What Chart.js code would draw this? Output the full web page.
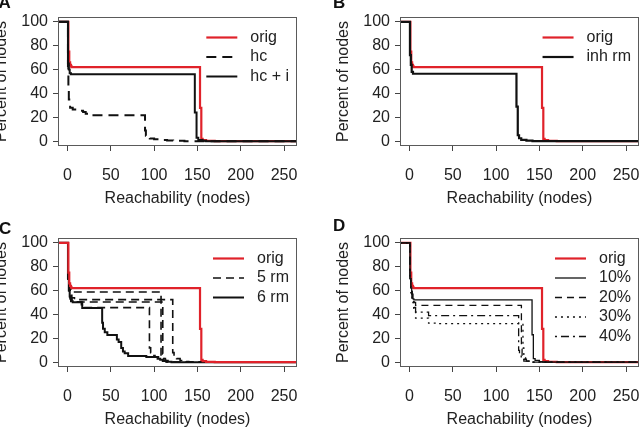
<!DOCTYPE html>
<html><head><meta charset="utf-8">
<script src="https://cdn.jsdelivr.net/npm/chart.js@4.4.1/dist/chart.umd.min.js"></script>
<style>
html,body{margin:0;padding:0;background:#fff;overflow:hidden;width:643px;height:428px;position:relative}
.p{position:absolute;width:322px;height:221px}
canvas{display:block}
</style></head><body>
<div class="p" style="left:-21px;top:-7px"><canvas id="cA" width="322" height="221"></canvas></div>
<div class="p" style="left:321px;top:-7px"><canvas id="cB" width="322" height="221"></canvas></div>
<div class="p" style="left:-21px;top:214px"><canvas id="cC" width="322" height="221"></canvas></div>
<div class="p" style="left:321px;top:214px"><canvas id="cD" width="322" height="221"></canvas></div>
<script>
// ---- tick labels ----
const xTicks = [0, 50, 100, 150, 200, 250];
const yTicks = [0, 20, 40, 60, 80, 100];
const X_MIN = -11, X_MAX = 265, Y_MIN = -4, Y_MAX = 104;

// ---- original network (all panels) ----
const origX = [-11, 1, 2, 3, 4, 5, 153, 154.5, 156, 160, 170, 265];
const origY = [100, 75, 66, 64, 62.5, 62, 28, 2, 1, 0.3, 0, 0];

// ---- panel A ----
const hcX = [-11, 0.5, 1, 1.5, 2, 3, 6, 12, 18, 21, 24, 89.5, 90.5, 92, 95, 100, 108, 115, 122, 135, 265];
const hcY = [100, 63, 45, 35, 30, 28, 26.5, 25.5, 24.5, 23, 21.7, 9, 4.5, 3, 2.2, 1.6, 1.1, 0.7, 0.4, 0, 0];
const hciX = [-11, 0.5, 1.5, 2.5, 4, 147, 149, 151, 156, 160, 265];
const hciY = [100, 65, 60, 57, 56, 24, 3, 1, 0.3, 0, 0];

// ---- panel B ----
const inhX = [-11, 0.5, 1.5, 2.5, 4, 123.5, 125, 126.5, 129, 135, 142, 265];
const inhY = [100, 72, 64, 58, 56.5, 29, 5, 2.5, 1.2, 0.5, 0, 0];

// ---- panel C ----
const c5aX = [-11, 0.5, 1.5, 2.5, 4, 108, 109, 111, 114, 118, 265];
const c5aY = [100, 70, 64, 61, 58.8, 6, 3, 1.5, 0.6, 0, 0];
const c5bX = [-11, 0.5, 1.5, 3, 5, 8, 121.5, 123, 126, 130, 135, 140, 265];
const c5bY = [100, 70, 62, 56, 54, 52.4, 8, 5, 3, 1.5, 0.5, 0, 0];
const c5cX = [-11, 0.5, 1.5, 3, 5, 110, 111, 113, 116, 120, 265];
const c5cY = [100, 70, 60, 54, 50.4, 7, 3, 1.5, 0.5, 0, 0];
const c5dX = [-11, 0.5, 1.5, 3, 5, 16, 94.6, 96, 98, 101, 105, 110, 115, 265];
const c5dY = [100, 70, 60, 53, 50.3, 45.7, 12, 8, 5.5, 4.5, 3, 1, 0, 0];
const c6X = [-11, 0.5, 1.5, 2.5, 4, 6, 17, 40, 41, 43, 46, 57, 59, 62, 64, 66, 70, 91, 104, 107, 110, 114, 120, 265];
const c6Y = [100, 70, 60, 55, 51, 50.3, 45.3, 33, 28, 25, 22.8, 19, 17, 12, 9, 7.5, 5.3, 4.4, 3, 2, 1, 0.3, 0, 0];

// ---- panel D ----
const d10X = [-11, 0.5, 1.5, 2.5, 4, 5, 141.5, 143, 145, 150, 154, 265];
const d10Y = [100, 70, 62, 57, 53, 52.2, 23, 3, 1.5, 0.5, 0, 0];
const d20X = [-11, 0.5, 1.5, 3, 5, 7, 129.2, 130, 132, 135, 140, 265];
const d20Y = [100, 70, 60, 53, 50, 47.6, 11, 5, 2.5, 1, 0, 0];
const d30X = [-11, 0.5, 1.5, 3, 5, 7, 22, 32, 131, 132, 134, 137, 142, 265];
const d30Y = [100, 70, 58, 50, 43, 37, 32.8, 32.3, 12, 5, 2.5, 1, 0, 0];
const d40X = [-11, 0.5, 1.5, 3, 5, 7, 22, 126, 127, 129, 132, 138, 265];
const d40Y = [100, 70, 60, 52, 46, 42, 39, 10, 5, 2.5, 1, 0, 0];

const FONT = '"Liberation Sans", Arial, Helvetica, sans-serif';
const RED = 'rgb(224,34,42)';
const BLK = '#111';

function pts(xs, ys) { return xs.map((x, i) => ({ x: x, y: ys[i] })); }
function ds(label, xs, ys, color, width, dash, order) {
  return { label: label, data: pts(xs, ys), borderColor: color, borderWidth: width,
    borderDash: dash, stepped: true, pointRadius: 0, fill: false, order: order };
}

const rPanel = {
  id: 'rPanel',
  afterDatasetsDraw(chart, args, o) {
    const ctx = chart.ctx, a = chart.chartArea;
    ctx.save();
    ctx.strokeStyle = '#5a5a5a'; ctx.lineWidth = 1; ctx.setLineDash([]);
    ctx.strokeRect(Math.round(a.left) + 0.5, Math.round(a.top) + 0.5,
      Math.round(a.right - a.left) - 1, Math.round(a.bottom - a.top) - 1);
    const items = chart.data.datasets.filter(d => d.label);
    ctx.font = '16px ' + FONT;
    const maxW = Math.max(...items.map(d => ctx.measureText(d.label).width));
    const tx = a.right - 8 - maxW;
    items.forEach((d, i) => {
      const y = a.top + 20.5 + i * 19.5;
      ctx.beginPath();
      ctx.setLineDash(d.borderDash || []);
      ctx.lineWidth = d.borderWidth; ctx.strokeStyle = d.borderColor;
      ctx.moveTo(tx - 44, y); ctx.lineTo(tx - 13, y); ctx.stroke();
      ctx.setLineDash([]);
      ctx.fillStyle = '#222'; ctx.textBaseline = 'middle'; ctx.textAlign = 'left';
      ctx.fillText(d.label, tx, y);
    });
    ctx.font = 'bold 17px ' + FONT;
    ctx.fillStyle = '#111'; ctx.textBaseline = 'alphabetic'; ctx.textAlign = 'left';
    ctx.fillText(o.letter, o.lx, o.ly);
    ctx.restore();
  }
};

function zeroPad(s) { s.paddingLeft = 0; s.paddingRight = 0; s.paddingTop = 0; s.paddingBottom = 0; }

function makeChart(id, datasets, letter, lx, ly) {
  const tickFont = { family: FONT, size: 16 };
  const grid = { display: true, drawOnChartArea: false, drawTicks: true, tickLength: 5, color: '#444', lineWidth: 1 };
  return new Chart(document.getElementById(id), {
    type: 'line',
    data: { datasets: datasets },
    plugins: [rPanel],
    options: {
      responsive: false, animation: false, devicePixelRatio: 1,
      layout: { padding: { left: 0, right: 4, top: 24, bottom: 0 } },
      plugins: { legend: { display: false }, tooltip: { enabled: false }, rPanel: { letter: letter, lx: lx, ly: ly } },
      scales: {
        x: {
          type: 'linear', min: X_MIN, max: X_MAX,
          afterBuildTicks: s => { s.ticks = xTicks.map(v => ({ value: v })); },
          afterFit: s => { s.height = 68; zeroPad(s); },
          grid: grid, border: { display: false },
          ticks: { padding: 15.4, color: '#222', font: tickFont, maxRotation: 0, autoSkip: false },
          title: { display: true, text: 'Reachability (nodes)', color: '#222', font: tickFont, padding: { top: 0, bottom: 5.4 } }
        },
        y: {
          type: 'linear', min: Y_MIN, max: Y_MAX,
          afterBuildTicks: s => { s.ticks = yTicks.map(v => ({ value: v })); },
          afterFit: s => { s.width = 79; zeroPad(s); },
          grid: grid, border: { display: false },
          ticks: { padding: 5, color: '#222', font: tickFont, autoSkip: false },
          title: { display: true, text: 'Percent of nodes', color: '#222', font: tickFont, padding: { top: 13.4, bottom: 0 } }
        }
      }
    }
  });
}

makeChart('cA', [
  ds('orig', origX, origY, RED, 2.2, [], 3),
  ds('hc', hcX, hcY, BLK, 2, [10, 6], 2),
  ds('hc + i', hciX, hciY, BLK, 2, [], 1)
], 'A', 19.5, 15);

makeChart('cB', [
  ds('orig', origX, origY, RED, 2.2, [], 2),
  ds('inh rm', inhX, inhY, BLK, 2.2, [], 1)
], 'B', 12, 15);

makeChart('cC', [
  ds('orig', origX, origY, RED, 2.2, [], 0),
  ds('5 rm', c5aX, c5aY, BLK, 1.6, [8, 5], 2),
  ds('', c5bX, c5bY, BLK, 1.6, [8, 5], 2),
  ds('', c5cX, c5cY, BLK, 1.6, [8, 5], 2),
  ds('', c5dX, c5dY, BLK, 1.6, [8, 5], 2),
  ds('6 rm', c6X, c6Y, BLK, 2, [], 1)
], 'C', 20, 20);

makeChart('cD', [
  ds('orig', origX, origY, RED, 2.2, [], 5),
  ds('10%', d10X, d10Y, BLK, 1.3, [], 1),
  ds('20%', d20X, d20Y, BLK, 1.3, [7, 5], 2),
  ds('30%', d30X, d30Y, BLK, 1.3, [2, 4], 3),
  ds('40%', d40X, d40Y, BLK, 1.3, [2, 4, 8, 4], 4)
], 'D', 12, 17);
</script>
</body></html>
